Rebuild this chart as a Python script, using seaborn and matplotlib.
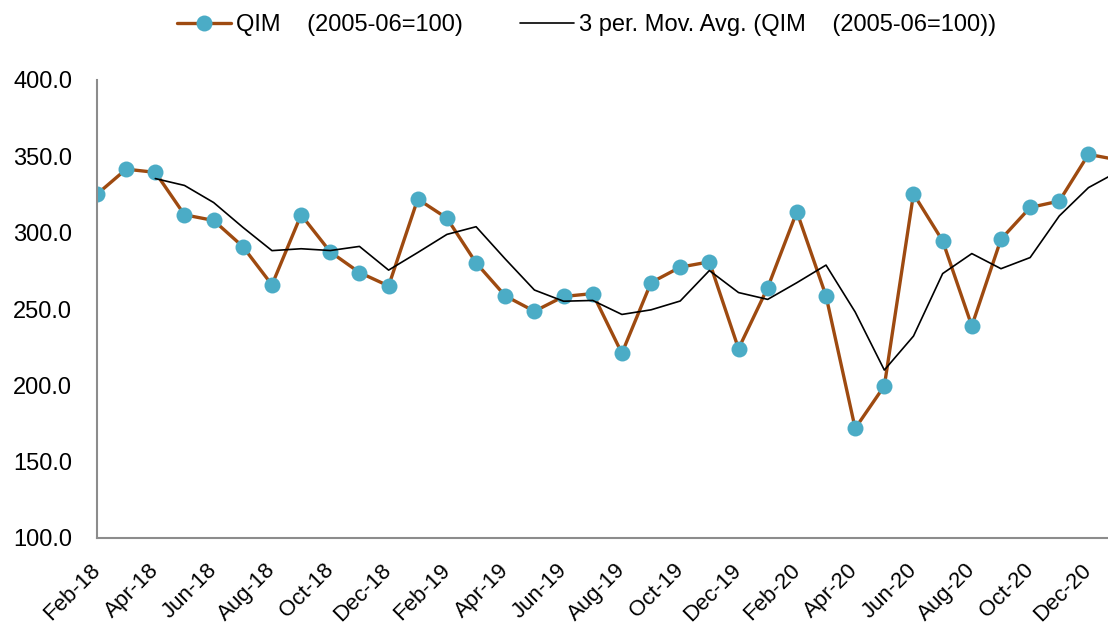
import pandas as pd
import matplotlib
matplotlib.use("Agg")
import matplotlib.pyplot as plt
import seaborn as sns

# QIM index (2005-06=100), monthly Feb-18 .. Jan-21
months = ["Feb-18", "Mar-18", "Apr-18", "May-18", "Jun-18", "Jul-18", "Aug-18",
          "Sep-18", "Oct-18", "Nov-18", "Dec-18", "Jan-19", "Feb-19", "Mar-19",
          "Apr-19", "May-19", "Jun-19", "Jul-19", "Aug-19", "Sep-19", "Oct-19",
          "Nov-19", "Dec-19", "Jan-20", "Feb-20", "Mar-20", "Apr-20", "May-20",
          "Jun-20", "Jul-20", "Aug-20", "Sep-20", "Oct-20", "Nov-20", "Dec-20",
          "Jan-21"]
qim = [325.2, 341.6, 339.5, 311.7, 308.0, 290.9, 265.8, 311.7, 287.4, 273.9,
       265.1, 322.0, 309.5, 280.2, 258.6, 248.5, 258.2, 260.1, 221.0, 267.3,
       277.4, 280.9, 224.0, 264.0, 313.7, 258.6, 171.8, 199.6, 325.4, 294.6,
       238.9, 295.7, 316.5, 320.7, 351.3, 347.7]

df = pd.DataFrame({"pos": range(len(months)), "month": months, "qim": qim})
# 3 period moving average trendline (as in Excel)
df["ma"] = df["qim"].rolling(3).mean()

sns.set_theme(style="white")
plt.rcParams["font.family"] = ["Liberation Sans", "DejaVu Sans"]
plt.rcParams["text.color"] = "black"
plt.rcParams["xtick.color"] = "black"
plt.rcParams["ytick.color"] = "black"

fig = plt.figure(figsize=(11.08, 6.32), dpi=100)
ax = fig.add_axes([97 / 1108, 1 - 538 / 632, 1 - 97 / 1108, (538 - 80) / 632])

sns.lineplot(data=df, x="pos", y="qim", ax=ax, color="#9E4A10", linewidth=2.4,
             marker="o", markersize=11.5, markerfacecolor="#4BACC6",
             markeredgewidth=0, label="QIM    (2005-06=100)")
sns.lineplot(data=df.dropna(), x="pos", y="ma", ax=ax, color="black",
             linewidth=1.2, label="3 per. Mov. Avg. (QIM    (2005-06=100))")

ax.set_xlim(0, 34.67)
ax.set_ylim(100, 400)
ax.set_yticks([100, 150, 200, 250, 300, 350, 400])
ax.set_yticklabels([f"{v:.1f}" for v in ax.get_yticks()], fontsize=17)
ax.tick_params(axis="y", length=0, pad=18)

ax.set_xticks(df["pos"][::2])
ax.set_xticklabels(df["month"][::2], rotation=45, ha="right", va="center",
                   rotation_mode="anchor", fontsize=16)
ax.tick_params(axis="x", length=0, pad=21)
ax.set_xlabel("")
ax.set_ylabel("")

for s in ["top", "right"]:
    ax.spines[s].set_visible(False)
for s in ["left", "bottom"]:
    ax.spines[s].set_color("#8C8C8C")
    ax.spines[s].set_linewidth(1.5)

ax.legend(loc="upper center", bbox_to_anchor=(0.484, 1.19),
          ncol=2, frameon=False, fontsize=17, columnspacing=2.4,
          handlelength=2.3, handletextpad=0.2)

fig.savefig("out.png", dpi=100)
